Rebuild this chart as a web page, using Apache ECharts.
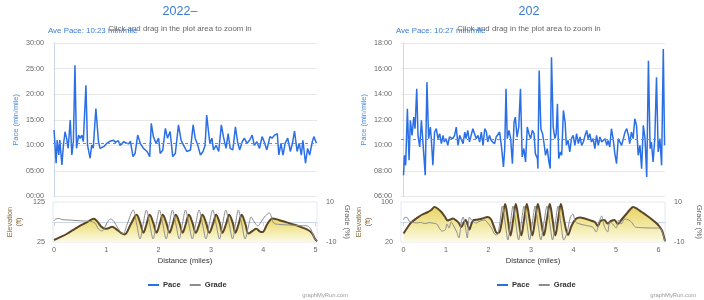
<!DOCTYPE html>
<html><head><meta charset="utf-8">
<script src="https://cdn.jsdelivr.net/npm/echarts@6/dist/echarts.min.js"></script>
<style>html,body{margin:0;padding:0;background:#fff}#c{width:704px;height:300px}</style>
</head><body><div id="c"></div>
<script>
// ---------- DATA ----------
const titles = ['2022–', '202'];
const avePaceText = ['10:23', '10:27'];
const distTicksLeft = [0, 1, 2, 3, 4, 5];
const distTicksRight = [0, 1, 2, 3, 4, 5, 6];
const elevTicksLeft = [25, 125];
const elevTicksRight = [20, 100];
const gradeTicks = [-10, 10];

const paceLeft = [[0.00,12.99],[0.04,6.49],[0.06,11.04],[0.09,8.12],[0.11,11.04],[0.15,6.17],[0.18,10.06],[0.21,12.66],[0.24,11.36],[0.27,9.42],[0.31,14.94],[0.34,8.12],[0.37,10.71],[0.40,25.65],[0.43,9.42],[0.47,12.01],[0.50,11.36],[0.53,12.01],[0.56,10.71],[0.61,21.75],[0.64,10.06],[0.69,7.47],[0.72,10.06],[0.75,9.42],[0.80,17.21],[0.85,10.71],[0.88,9.42],[0.91,9.09],[0.95,9.74],[1.01,10.4],[1.04,10.2],[1.07,10.8],[1.10,10.9],[1.14,11.0],[1.17,10.6],[1.20,10.7],[1.23,10.9],[1.26,10.0],[1.30,10.3],[1.33,10.7],[1.36,10.7],[1.39,10.4],[1.43,10.3],[1.46,10.8],[1.51,7.8],[1.55,8.4],[1.60,12.0],[1.65,10.4],[1.71,9.4],[1.78,8.8],[1.83,7.8],[1.86,14.3],[1.90,11.7],[1.95,10.4],[2.00,11.4],[2.03,8.4],[2.08,9.1],[2.13,13.3],[2.17,11.4],[2.22,12.7],[2.27,7.8],[2.32,8.4],[2.38,14.0],[2.43,11.0],[2.48,10.0],[2.54,8.8],[2.61,9.1],[2.66,14.0],[2.70,11.4],[2.75,10.0],[2.80,8.1],[2.85,8.8],[2.89,10.0],[2.92,15.9],[2.98,10.4],[3.02,11.4],[3.05,9.1],[3.10,10.0],[3.15,8.8],[3.20,14.0],[3.24,11.7],[3.29,9.4],[3.33,12.3],[3.37,9.4],[3.42,9.1],[3.47,13.6],[3.51,10.7],[3.55,9.1],[3.60,10.7],[3.64,11.4],[3.69,10.4],[3.74,11.0],[3.79,12.0],[3.83,10.0],[3.88,10.7],[3.93,9.4],[3.98,11.7],[4.02,10.7],[4.07,9.1],[4.13,11.7],[4.17,11.4],[4.22,12.0],[4.27,12.3],[4.30,8.1],[4.34,10.4],[4.38,8.1],[4.42,10.4],[4.47,11.4],[4.52,8.8],[4.56,10.4],[4.60,12.8],[4.65,8.8],[4.69,10.4],[4.73,8.1],[4.76,11.0],[4.81,6.5],[4.85,9.4],[4.89,8.1],[4.94,10.7],[4.97,11.7],[5.02,10.4]];

const paceRight = [[0.00,7.66],[0.02,9.22],[0.05,8.44],[0.09,12.86],[0.13,8.83],[0.16,11.95],[0.20,10.78],[0.24,12.21],[0.27,11.30],[0.31,14.42],[0.34,10.78],[0.38,9.87],[0.42,11.95],[0.46,11.82],[0.51,7.66],[0.55,14.94],[0.59,10.52],[0.63,11.43],[0.65,10.65],[0.69,8.44],[0.73,11.04],[0.77,11.30],[0.81,10.52],[0.85,10.91],[0.89,10.13],[0.93,10.78],[0.96,10.26],[1.00,10.52],[1.04,10.00],[1.08,10.65],[1.12,10.65],[1.16,10.52],[1.20,10.78],[1.24,11.43],[1.28,10.00],[1.32,10.78],[1.36,10.91],[1.40,10.13],[1.44,11.04],[1.47,10.52],[1.51,11.17],[1.55,10.26],[1.59,10.78],[1.63,11.30],[1.67,11.17],[1.71,10.52],[1.75,10.78],[1.79,10.26],[1.83,11.04],[1.87,10.00],[1.91,11.30],[1.95,11.04],[1.98,10.26],[2.02,10.78],[2.06,10.39],[2.10,10.52],[2.14,10.13],[2.18,10.65],[2.22,10.78],[2.26,11.04],[2.30,10.00],[2.35,8.31],[2.38,9.74],[2.41,14.42],[2.44,10.52],[2.48,11.17],[2.52,10.52],[2.56,8.57],[2.60,11.82],[2.63,12.21],[2.67,10.65],[2.71,11.43],[2.75,14.42],[2.79,9.09],[2.83,9.74],[2.87,8.70],[2.91,11.43],[2.95,10.91],[2.99,10.52],[3.03,11.17],[3.07,10.91],[3.10,9.35],[3.15,8.96],[3.16,8.18],[3.19,15.84],[3.23,11.30],[3.27,10.91],[3.30,10.26],[3.34,9.22],[3.38,9.74],[3.42,8.70],[3.45,8.18],[3.48,16.88],[3.52,11.43],[3.56,10.52],[3.59,10.91],[3.62,13.25],[3.65,8.96],[3.69,9.48],[3.72,9.22],[3.76,12.73],[3.80,11.82],[3.83,10.00],[3.87,10.39],[3.91,9.48],[3.95,10.52],[3.99,10.78],[4.03,10.00],[4.07,10.91],[4.11,10.13],[4.15,10.65],[4.19,10.00],[4.23,10.26],[4.27,10.78],[4.31,11.17],[4.34,10.52],[4.38,10.91],[4.42,10.26],[4.46,10.52],[4.50,9.74],[4.54,10.78],[4.58,10.00],[4.62,10.65],[4.66,10.26],[4.70,10.13],[4.74,10.52],[4.78,10.00],[4.81,10.39],[4.85,9.87],[4.89,11.30],[4.93,10.52],[4.97,9.35],[5.01,8.57],[5.05,10.52],[5.09,10.39],[5.13,10.00],[5.17,10.52],[5.21,11.04],[5.25,11.30],[5.29,10.78],[5.32,10.13],[5.36,11.04],[5.40,10.52],[5.44,12.08],[5.48,11.56],[5.52,9.22],[5.56,10.00],[5.60,8.18],[5.64,11.56],[5.68,10.52],[5.72,7.53],[5.76,16.62],[5.80,9.74],[5.83,10.26],[5.87,8.70],[5.91,10.52],[5.95,15.32],[5.99,9.48],[6.03,10.52],[6.07,8.44],[6.11,17.53],[6.14,10.00]];

const elevLeft = [[0,30],[0.1,36],[0.24,45],[0.4,58],[0.5,66],[0.65,76],[0.76,83],[0.83,76],[0.9,64],[0.98,58],[1.05,60],[1.11,63],[1.2,56],[1.28,48],[1.35,44],[1.47,70],[1.58,93],[1.65,72],[1.71,48],[1.77,70],[1.83,93],[1.9,72],[1.96,48],[2.02,70],[2.08,93],[2.15,72],[2.21,48],[2.27,70],[2.33,93],[2.40,72],[2.46,48],[2.52,70],[2.58,93],[2.65,72],[2.71,48],[2.78,70],[2.84,93],[2.91,72],[2.97,48],[3.04,70],[3.10,93],[3.17,72],[3.22,48],[3.29,70],[3.35,93],[3.42,72],[3.47,48],[3.53,70],[3.59,93],[3.66,70],[3.72,46],[3.8,53],[3.87,58],[3.94,51],[3.99,50],[4.08,70],[4.18,84],[4.3,80],[4.45,74],[4.6,68],[4.75,61],[4.86,55],[4.94,46],[4.99,33],[5.03,27]];

const gradeLeft = [[0,0.5],[0.03,1.5],[0.1,1.8],[0.15,1.2],[0.3,1.0],[0.5,0.6],[0.7,0.3],[0.78,-0.5],[0.85,-3.5],[0.92,-4.5],[1.0,-1],[1.08,1.5],[1.14,0.5],[1.22,-3],[1.32,-6],[1.4,-1],[1.515,6],[1.58,-1],[1.645,-8.5],[1.705,-1],[1.765,6],[1.83,-1],[1.895,-8.5],[1.955,-1],[2.015,6],[2.08,-1],[2.145,-8.5],[2.205,-1],[2.265,6],[2.33,-1],[2.395,-8.5],[2.455,-1],[2.515,6],[2.58,-1],[2.645,-8.5],[2.71,-1],[2.775,6],[2.84,-1],[2.905,-8.5],[2.97,-1],[3.035,6],[3.10,-1],[3.165,-8.5],[3.225,-1],[3.285,6],[3.35,-1],[3.415,-8.5],[3.47,-1],[3.525,6],[3.59,-1],[3.655,-8.5],[3.72,-2],[3.77,2.5],[3.83,0],[3.9,-2],[3.96,0],[4.04,3],[4.12,4.5],[4.2,-0.5],[4.3,-1.2],[4.5,-1.5],[4.7,-1.8],[4.85,-2],[4.92,-4],[4.98,-8],[5.03,-9.5]];

const elevRight = [[0,37],[0.1,50],[0.18,59],[0.3,67],[0.42,74],[0.55,79],[0.65,84],[0.73,90],[0.8,87],[0.89,80],[0.97,71],[1.04,63],[1.1,65],[1.16,67],[1.24,63],[1.3,58],[1.36,50],[1.41,58],[1.46,64],[1.51,54],[1.55,45],[1.6,57],[1.65,64],[1.75,65],[1.85,67],[1.98,70],[2.06,65],[2.12,52],[2.2,38],[2.26,40],[2.32,65],[2.39,96],[2.455,65],[2.515,33],[2.58,65],[2.64,96],[2.705,65],[2.77,33],[2.835,65],[2.9,96],[2.965,65],[3.03,33],[3.095,65],[3.16,96],[3.23,65],[3.30,33],[3.37,65],[3.44,96],[3.505,65],[3.57,33],[3.635,65],[3.70,96],[3.78,62],[3.87,34],[3.95,52],[4.05,66],[4.15,69],[4.26,67],[4.4,63],[4.5,60],[4.57,52],[4.63,62],[4.72,64],[4.8,57],[4.88,62],[4.96,64],[5.04,56],[5.12,64],[5.24,76],[5.32,84],[5.4,90],[5.5,86],[5.6,80],[5.72,73],[5.83,66],[5.93,59],[6.02,51],[6.08,43],[6.12,32],[6.15,22]];

const gradeRight = [[0,1],[0.03,2.3],[0.08,2.3],[0.13,0.5],[0.2,0],[0.3,-0.5],[0.4,-0.2],[0.5,-0.8],[0.6,-0.3],[0.7,-0.6],[0.78,-1],[0.84,-3],[0.9,-4.5],[0.98,-4],[1.02,-1],[1.07,-3],[1.12,0],[1.18,-2],[1.25,-5],[1.3,-8],[1.36,0],[1.4,2.5],[1.45,-2],[1.5,-8],[1.55,2.5],[1.6,1],[1.7,-0.5],[1.8,0.5],[1.9,1],[2.0,-1],[2.07,-3],[2.14,-6],[2.2,-6.5],[2.26,-1],[2.325,8],[2.39,-0.5],[2.455,-9],[2.515,-0.5],[2.575,8],[2.64,-0.5],[2.705,-9],[2.77,-0.5],[2.835,8],[2.9,-0.5],[2.965,-9],[3.03,-0.5],[3.095,8],[3.16,-0.5],[3.23,-9],[3.30,-0.5],[3.375,8],[3.44,-0.5],[3.505,-9],[3.57,-0.5],[3.635,8],[3.70,-0.5],[3.77,-9],[3.85,-5],[3.92,2],[3.98,4],[4.05,0],[4.15,-1],[4.25,-1.5],[4.35,-2],[4.45,-2.5],[4.53,-5],[4.6,0],[4.66,3],[4.72,-2],[4.8,-5],[4.85,0],[4.92,-1],[5.0,-3],[5.06,1],[5.12,-1],[5.2,1.5],[5.3,1],[5.38,-0.5],[5.45,-2.5],[5.6,-2.8],[5.8,-3],[5.95,-3],[6.05,-3.5],[6.1,-6],[6.15,-10]];

// ---------- CHART ----------
const FF = '"Liberation Sans", Arial, sans-serif';
const pad = n => (n < 10 ? '0' : '') + n;
const mmss = v => { const m = Math.floor(v + 1e-9); const s = Math.round((v - m) * 60); return pad(m) + ':' + pad(s); };
const parseMMSS = t => { const p = t.split(':'); return +p[0] + (+p[1]) / 60; };

const PACE = '#2a6fe6', ELEV = '#5a4526', GRADE = '#8d8d8d', AXC = '#ccd6eb', LBL = '#666';

const panels = [
  {x0: 53, w: 264, xmin: -0.02, xmax: 5.03, paceMin: 0, paceMax: 30, paceInt: 5,
   eMin: 25, eMax: 125, eTicks: elevTicksLeft, dTicks: distTicksLeft,
   pace: paceLeft, elev: elevLeft, grade: gradeLeft, cx: 180, gName: 27, eGap: 30, pGap: 34},
  {x0: 401, w: 264, xmin: -0.06, xmax: 6.15, paceMin: 6, paceMax: 18, paceInt: 2,
   eMin: 20, eMax: 100, eTicks: elevTicksRight, dTicks: distTicksRight,
   pace: paceRight, elev: elevRight, grade: gradeRight, cx: 529, gName: 31, eGap: 29, pGap: 34}
];

const grid = [], xAxis = [], yAxis = [], series = [], graphic = [], legend = [];
panels.forEach((p, i) => {
  const g0 = grid.length;
  grid.push({left: p.x0, top: 43, width: p.w, height: 153.5});
  grid.push({left: p.x0, top: 202, width: p.w, height: 40, show: true, borderColor: '#e3e8f0', borderWidth: 1});
  xAxis.push({gridIndex: g0, type: 'value', min: p.xmin, max: p.xmax,
    axisLabel: {show: false}, axisTick: {show: false}, axisLine: {show: false}, splitLine: {show: false}});
  xAxis.push({gridIndex: g0 + 1, type: 'value', min: p.xmin, max: p.xmax,
    axisLine: {show: true, lineStyle: {color: AXC}},
    axisTick: {show: true, length: 4, lineStyle: {color: AXC}, customValues: p.dTicks},
    axisLabel: {color: LBL, fontSize: 7.2, fontFamily: FF, margin: 5, customValues: p.dTicks},
    splitLine: {show: false},
    name: 'Distance (miles)', nameLocation: 'middle', nameGap: 15,
    nameTextStyle: {color: '#333', fontSize: 7.6, fontFamily: FF}});
  const y0 = yAxis.length;
  yAxis.push({gridIndex: g0, type: 'value', min: p.paceMin, max: p.paceMax, interval: p.paceInt,
    axisLabel: {color: LBL, fontSize: 7.2, fontFamily: FF, margin: 9, formatter: mmss},
    axisLine: {show: true, lineStyle: {color: AXC}}, axisTick: {show: false},
    splitLine: {show: true, lineStyle: {color: '#e8e8e8', width: 1}},
    name: 'Pace (min/mile)', nameLocation: 'middle', nameGap: p.pGap, nameRotate: 90,
    nameTextStyle: {color: '#4d8de0', fontSize: 7.4, fontFamily: FF}});
  yAxis.push({gridIndex: g0 + 1, type: 'value', min: p.eMin, max: p.eMax,
    axisLabel: {color: LBL, fontSize: 7.2, fontFamily: FF, margin: 8, customValues: p.eTicks},
    axisLine: {show: false}, axisTick: {show: false}, splitLine: {show: false},
    name: 'Elevation\n(ft)', nameLocation: 'middle', nameGap: p.eGap, nameRotate: 90,
    nameTextStyle: {color: '#8a6a3c', fontSize: 7.4, fontFamily: FF, lineHeight: 9}});
  yAxis.push({gridIndex: g0 + 1, type: 'value', position: 'right', min: -10, max: 10,
    axisLabel: {color: LBL, fontSize: 7.2, fontFamily: FF, margin: 9, customValues: gradeTicks},
    axisLine: {show: false}, axisTick: {show: false}, splitLine: {show: false},
    name: 'Grade (%)', nameLocation: 'middle', nameGap: p.gName, nameRotate: -90,
    nameTextStyle: {color: LBL, fontSize: 7.4, fontFamily: FF}});

  series.push({name: 'Pace', type: 'line', xAxisIndex: g0, yAxisIndex: y0, data: p.pace,
    symbol: 'none', lineStyle: {color: PACE, width: 1.5}, itemStyle: {color: PACE}, z: 3,
    markLine: {silent: true, symbol: 'none', label: {show: false},
      lineStyle: {color: '#5b8fd8', width: 1, type: [3, 3]},
      data: [{yAxis: parseMMSS(avePaceText[i])}]}});
  series.push({name: 'Elevation', type: 'line', xAxisIndex: g0 + 1, yAxisIndex: y0 + 1, data: p.elev,
    symbol: 'none', smooth: 0.35, lineStyle: {color: ELEV, width: 2}, itemStyle: {color: ELEV}, z: 2,
    areaStyle: {opacity: 1, color: new echarts.graphic.LinearGradient(0, 0, 0, 1, [
      {offset: 0, color: 'rgb(230,208,92)'}, {offset: 0.55, color: 'rgb(242,232,160)'}, {offset: 1, color: 'rgb(252,250,230)'}])}});
  series.push({name: 'Grade', type: 'line', xAxisIndex: g0 + 1, yAxisIndex: y0 + 2, data: p.grade,
    symbol: 'none', smooth: 0.3, lineStyle: {color: GRADE, width: 1}, itemStyle: {color: GRADE}, z: 3});

  legend.push({data: ['Pace', 'Grade'], left: p.cx - 37, top: 276, icon: 'rect',
    itemWidth: 11, itemHeight: 2, itemGap: 9, selectedMode: false,
    textStyle: {fontSize: 7.6, fontWeight: 'bold', color: '#333', fontFamily: FF, padding: [0, 0, 0, -1]}});

  const txt = (text, x, y, font, fill, align) => ({type: 'text', z: 100,
    style: {text, x, y, font, fill, textAlign: align, align, textVerticalAlign: 'middle', verticalAlign: 'middle'}});
  graphic.push(txt(titles[i], p.cx, 12, '12.5px ' + FF, '#3a7bd5', 'center'));
  graphic.push(txt('Click and drag in the plot area to zoom in', p.cx, 28.5, '7.9px ' + FF, '#666', 'center'));
  graphic.push(txt('Ave Pace: ' + avePaceText[i] + ' min/mile', p.x0 - 5, 30.5, '7.9px ' + FF, '#3a7bd5', 'left'));
  graphic.push(txt('graphMyRun.com', p.x0 + p.w + 31, 295, '5.8px ' + FF, '#999', 'right'));
});

const chart = echarts.init(document.getElementById('c'), null, {renderer: 'canvas'});
chart.setOption({animation: false, backgroundColor: '#fff', grid, xAxis, yAxis, series, legend, graphic});
</script></body></html>
